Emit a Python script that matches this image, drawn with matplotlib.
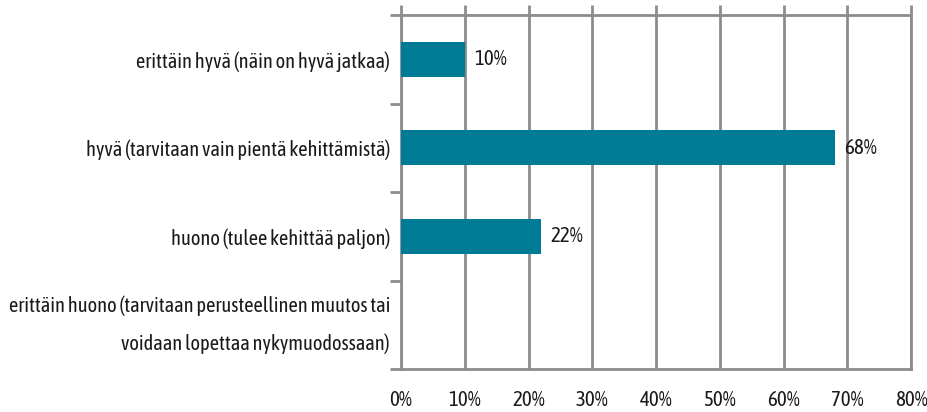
import numpy as np
import matplotlib
matplotlib.use("Agg")
import matplotlib.pyplot as plt

plt.rcParams['font.family'] = ['Asap Condensed', 'DejaVu Sans']

categories = [
    "erittäin hyvä (näin on hyvä jatkaa)",
    "hyvä (tarvitaan vain pientä kehittämistä)",
    "huono (tulee kehittää paljon)",
    "erittäin huono (tarvitaan perusteellinen muutos tai\nvoidaan lopettaa nykymuodossaan)",
]
values = [10, 68, 22, 0]
x_ticks = [0, 10, 20, 30, 40, 50, 60, 70, 80]

bar_color = "#007b96"
grid_color = "#8c8c8c"
text_color = "#1a1a1a"

fig = plt.figure(figsize=(9.27, 4.12), dpi=100)
ax = fig.add_axes([401 / 927, 1 - 369 / 412, 510 / 927, 354 / 412])

y = np.arange(len(categories))
ax.barh(y, values, height=0.4, color=bar_color, zorder=3)
for yi, v in zip(y, values):
    if v > 0:
        ax.text(v + 1.5, yi, f"{v}%", va="center", ha="left", fontsize=15, color=text_color)

ax.set_xlim(0, 80)
ax.set_ylim(len(categories) - 0.5, -0.5)
ax.set_xticks(x_ticks)
ax.set_xticklabels([f"{t}%" for t in x_ticks], fontsize=15, color=text_color)
ax.xaxis.grid(True, color=grid_color, linewidth=2, zorder=0)

ax.set_yticks(y)
labels = ax.set_yticklabels(categories, fontsize=14.7, color=text_color, linespacing=2.05)
labels[-1].set_va("center")
ax.set_yticks(np.arange(len(categories) + 1) - 0.5, minor=True)
ax.tick_params(axis="y", which="major", length=0, pad=8)
ax.tick_params(axis="y", which="minor", length=8, width=2, color=grid_color, direction="out")
ax.tick_params(axis="x", top=True, bottom=False, labelbottom=True, length=7, width=2,
               color=grid_color, direction="out", pad=8)

for s in ax.spines.values():
    s.set_color(grid_color)
    s.set_linewidth(2)

fig.savefig("out.png", dpi=100)
